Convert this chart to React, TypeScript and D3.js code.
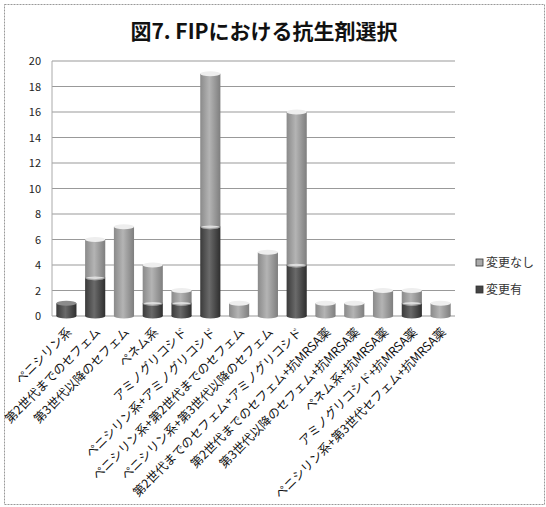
import React from "react";
import * as d3 from "d3";

const categories = [
  "ペニシリン系",
  "第2世代までのセフェム",
  "第3世代以降のセフェム",
  "ペネム系",
  "アミノグリコシド",
  "ペニシリン系+アミノグリコシド",
  "ペニシリン系+第2世代までのセフェム",
  "ペニシリン系+第3世代以降のセフェム",
  "第2世代までのセフェム+アミノグリコシド",
  "第2世代までのセフェム+抗MRSA薬",
  "第3世代以降のセフェム+抗MRSA薬",
  "ペネム系+抗MRSA薬",
  "アミノグリコシド+抗MRSA薬",
  "ペニシリン系+第3世代セフェム+抗MRSA薬",
];
const changed = [1, 3, 0, 1, 1, 7, 0, 0, 4, 0, 0, 0, 1, 0];
const unchanged = [0, 3, 7, 3, 1, 12, 1, 5, 12, 1, 1, 2, 1, 1];
const yTicks = [0, 2, 4, 6, 8, 10, 12, 14, 16, 18, 20];
const seriesNames = ["変更なし", "変更有"];
const title = "図7. FIPにおける抗生剤選択";

const W = 546, H = 507;
const plot = { left: 52, right: 455, top: 61, bottom: 316 };
const FONT = "'Noto Sans CJK JP', 'Noto Sans', sans-serif";

export default function App() {
  const x = d3.scaleBand<string>().domain(categories).range([plot.left, plot.right]).paddingInner(0.3).paddingOuter(0.15);
  const y = d3.scaleLinear().domain([0, 20]).range([plot.bottom, plot.top]);
  const bw = x.bandwidth();
  const ry = 2.5;

  const cyl = (x0: number, yTop: number, yBot: number, fill: string, top: string, key: string) => (
    <g key={key}>
      <rect x={x0} y={yTop} width={bw} height={yBot - yTop} fill={fill} />
      <ellipse cx={x0 + bw / 2} cy={yBot} rx={bw / 2} ry={ry} fill={fill} />
      <ellipse cx={x0 + bw / 2} cy={yTop} rx={bw / 2} ry={ry} fill={top} />
    </g>
  );

  return (
    <svg width={W} height={H} style={{ position: "absolute", left: 0, top: 0, fontFamily: FONT }}>
      <defs>
        <linearGradient id="gDark" x1="0" x2="1" y1="0" y2="0">
          <stop offset="0" stopColor="#3a3a3a" />
          <stop offset="0.45" stopColor="#6a6a6a" />
          <stop offset="1" stopColor="#2e2e2e" />
        </linearGradient>
        <linearGradient id="gLight" x1="0" x2="1" y1="0" y2="0">
          <stop offset="0" stopColor="#8a8a8a" />
          <stop offset="0.45" stopColor="#b4b4b4" />
          <stop offset="1" stopColor="#7e7e7e" />
        </linearGradient>
      </defs>
      <rect x={0} y={0} width={W} height={H} fill="#fff" />
      <rect x={4.5} y={4.5} width={W - 6} height={H - 7} fill="none" stroke="#999" strokeDasharray="2,1" />
      <text x={264} y={39} textAnchor="middle" fontSize={21} fontWeight="bold" fill="#111">{title}</text>

      {yTicks.map((t) => (
        <g key={t}>
          <line x1={plot.left} x2={plot.right} y1={y(t)} y2={y(t)} stroke="#999" strokeWidth={1} />
          <text x={41} y={y(t) + 4} textAnchor="end" fontSize={11} fill="#222">{t}</text>
        </g>
      ))}
      <line x1={plot.left} x2={plot.left} y1={plot.top} y2={plot.bottom} stroke="#aaa" />

      {categories.map((c, i) => {
        const x0 = x(c)!;
        const els: React.ReactNode[] = [];
        const y0 = y(0), y1 = y(changed[i]), y2 = y(changed[i] + unchanged[i]);
        if (changed[i] > 0) els.push(cyl(x0, y1, y0, "url(#gDark)", "#8c8c8c", "d"));
        if (unchanged[i] > 0) els.push(cyl(x0, y2, y1, "url(#gLight)", "#eeeeee", "l"));
        if (changed[i] > 0 && unchanged[i] > 0)
          els.push(<ellipse key="s" cx={x0 + bw / 2} cy={y1} rx={bw / 2 - 1} ry={1.2} fill="#ddd" />);
        return <g key={c}>{els}</g>;
      })}

      {categories.map((c) => {
        const cx = x(c)! + bw / 2 + 6;
        return (
          <text key={c} transform={`translate(${cx},${plot.bottom + 17}) rotate(-45)`} textAnchor="end" fontSize={12.2} fill="#111">{c}</text>
        );
      })}

      {seriesNames.map((s, i) => (
        <g key={s} transform={`translate(476,${263 + i * 27})`}>
          <rect x={0} y={-4} width={7} height={7} fill={i === 0 ? "#aaa" : "#444"} stroke="#333" strokeWidth={0.8} />
          <text x={10} y={4} fontSize={12} fill="#333">{s}</text>
        </g>
      ))}
    </svg>
  );
}
